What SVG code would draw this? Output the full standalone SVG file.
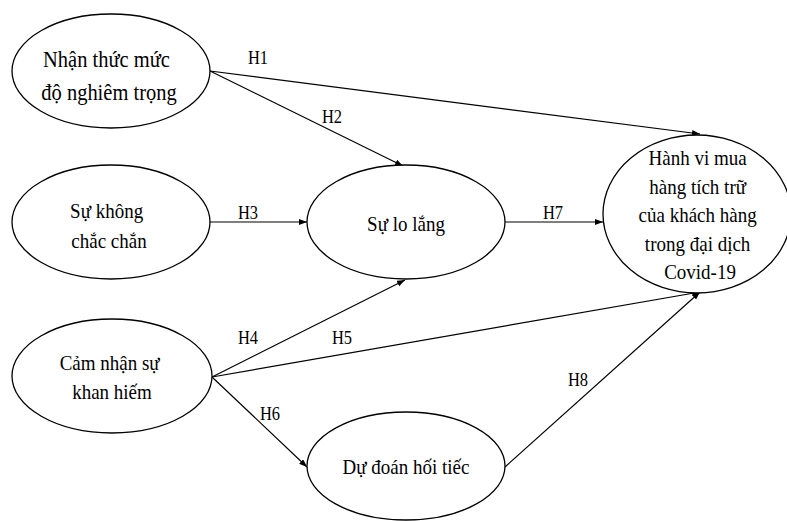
<svg xmlns="http://www.w3.org/2000/svg" width="787" height="521" viewBox="0 0 787 521">
  <style>
    .node { fill: #ffffff; stroke: #000000; stroke-width: 1.3; }
    .edge { stroke: #000000; stroke-width: 1.2; fill: none; marker-end: url(#arrow); }
    .t { font-family: "Liberation Serif", "Times New Roman", serif; font-size: 19px; fill: #000000; text-anchor: middle; }
    .t1 { font-size: 20.5px; }
    .lbl { font-family: "Liberation Serif", "Times New Roman", serif; font-size: 16.5px; fill: #000000; text-anchor: middle; }
  </style>
  <defs>
    <marker id="arrow" markerUnits="userSpaceOnUse" markerWidth="9" markerHeight="7" refX="8" refY="3" orient="auto">
      <path d="M0,0 L8,3 L0,6 z" fill="#000000"/>
    </marker>
  </defs>

  <rect width="787" height="521" fill="#ffffff"/>

  <!-- connectors -->
  <g id="connectors">
    <line class="edge" x1="210" y1="71" x2="700" y2="134"/>
    <line class="edge" x1="210" y1="71" x2="403" y2="166"/>
    <line class="edge" x1="210" y1="222" x2="307" y2="222"/>
    <line class="edge" x1="505" y1="222" x2="603" y2="222"/>
    <line class="edge" x1="212" y1="377" x2="405" y2="280"/>
    <line class="edge" x1="212" y1="377" x2="700" y2="292"/>
    <line class="edge" x1="212" y1="377" x2="307" y2="467"/>
    <line class="edge" x1="505" y1="467" x2="700" y2="292"/>
    <text class="lbl" transform="translate(258,64) scale(1,1.12)">H1</text>
    <text class="lbl" transform="translate(332,123) scale(1,1.12)">H2</text>
    <text class="lbl" transform="translate(248,219) scale(1,1.12)">H3</text>
    <text class="lbl" transform="translate(553,219) scale(1,1.12)">H7</text>
    <text class="lbl" transform="translate(248,344) scale(1,1.12)">H4</text>
    <text class="lbl" transform="translate(342,344) scale(1,1.12)">H5</text>
    <text class="lbl" transform="translate(270,420) scale(1,1.12)">H6</text>
    <text class="lbl" transform="translate(578,386) scale(1,1.12)">H8</text>
  </g>

  <!-- nodes -->
  <g id="severity">
    <ellipse class="node" cx="111" cy="71" rx="99" ry="57"/>
    <text class="t t1" transform="translate(109,67) scale(1,1.1)">
      <tspan x="0" y="0">Nhận thức mức</tspan>
      <tspan x="0" dy="30">độ nghiêm trọng</tspan>
    </text>
  </g>

  <g id="uncertainty">
    <ellipse class="node" cx="111" cy="222" rx="99" ry="57"/>
    <text class="t" transform="translate(109,218) scale(1,1.1)">
      <tspan x="0" y="0">Sự không</tspan>
      <tspan x="0" dy="27">chắc chắn</tspan>
    </text>
  </g>

  <g id="scarcity">
    <ellipse class="node" cx="112" cy="376" rx="100" ry="57"/>
    <text class="t" transform="translate(112,370) scale(1,1.1)">
      <tspan x="0" y="0">Cảm nhận sự</tspan>
      <tspan x="0" dy="26">khan hiếm</tspan>
    </text>
  </g>

  <g id="anxiety">
    <ellipse class="node" cx="406" cy="222" rx="99" ry="57"/>
    <text class="t" transform="translate(406,231) scale(1,1.1)">Sự lo lắng</text>
  </g>

  <g id="regret">
    <ellipse class="node" cx="406" cy="466" rx="99" ry="54"/>
    <text class="t" transform="translate(406,474) scale(1,1.1)">Dự đoán hối tiếc</text>
  </g>

  <g id="hoarding">
    <ellipse class="node" cx="697" cy="214" rx="94" ry="79"/>
    <text class="t" transform="translate(700,165) scale(1,1.08)">
      <tspan x="0" y="0">Hành vi mua</tspan>
      <tspan x="0" dy="26.5">hàng tích trữ</tspan>
      <tspan x="0" dy="26.5">của khách hàng</tspan>
      <tspan x="0" dy="26.5">trong đại dịch</tspan>
      <tspan x="0" dy="26.5">Covid-19</tspan>
    </text>
  </g>
</svg>
